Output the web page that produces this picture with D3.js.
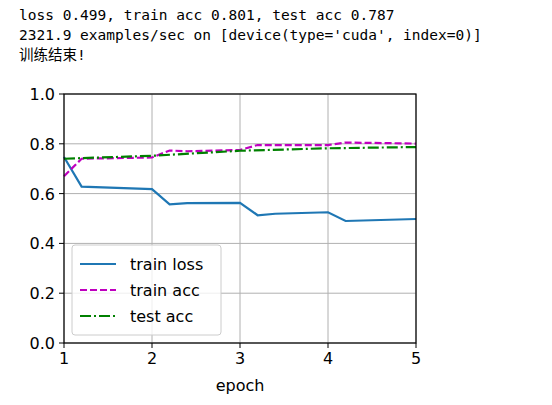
<!DOCTYPE html><html><head><meta charset="utf-8"><script src="https://d3js.org/d3.v7.min.js"></script>
<style>body{margin:0;background:#fff}pre{margin:0}</style></head><body>
<svg id="c" width="552" height="405"></svg>
<script>
const headerLines=["loss 0.499, train acc 0.801, test acc 0.787","2321.9 examples/sec on [device(type='cuda', index=0)]","训练结束!"];
const trainX=[1.0,1.2,2.0,2.2,2.4,3.0,3.2,3.4,4.0,4.2,5.0];
const trainLoss=[0.747,0.628,0.618,0.557,0.562,0.563,0.513,0.519,0.525,0.490,0.498];
const trainAcc=[0.670,0.740,0.745,0.773,0.770,0.775,0.795,0.795,0.795,0.805,0.801];
const testX=[1,2,3,4,5];
const testAcc=[0.740,0.752,0.772,0.782,0.787];
const xTicks=[1,2,3,4,5];
const yTicks=[0,0.2,0.4,0.6,0.8,1.0];
const svg=d3.select("#c");
headerLines.forEach((t,i)=>svg.append("text").attr("x",19).attr("y",20+i*20).attr("font-family","DejaVu Sans Mono, Noto Sans CJK SC").attr("font-size",14.5).text(t));
const x=d3.scaleLinear().domain([1,5]).range([64,416]);
const y=d3.scaleLinear().domain([0,1]).range([343,94]);
const g=svg.append("g");
xTicks.forEach(t=>g.append("line").attr("x1",x(t)).attr("x2",x(t)).attr("y1",94).attr("y2",343).attr("stroke","#b0b0b0").attr("stroke-width",1));
yTicks.forEach(t=>g.append("line").attr("y1",y(t)).attr("y2",y(t)).attr("x1",64).attr("x2",416).attr("stroke","#b0b0b0").attr("stroke-width",1));
const ln=(xs,ys)=>d3.line().x((d,i)=>x(xs[i])).y(d=>y(d))(ys);
g.append("path").attr("d",ln(trainX,trainLoss)).attr("fill","none").attr("stroke","#1f77b4").attr("stroke-width",2.2);
g.append("path").attr("d",ln(trainX,trainAcc)).attr("fill","none").attr("stroke","#bf00bf").attr("stroke-width",2.2).attr("stroke-dasharray","7,3");
g.append("path").attr("d",ln(testX,testAcc)).attr("fill","none").attr("stroke","#008000").attr("stroke-width",2.2).attr("stroke-dasharray","11,3,2,3");
g.append("rect").attr("x",64).attr("y",94).attr("width",352).attr("height",249).attr("fill","none").attr("stroke","#000").attr("stroke-width",1.2);
const f="DejaVu Sans";
xTicks.forEach(t=>{g.append("line").attr("x1",x(t)).attr("x2",x(t)).attr("y1",343).attr("y2",348).attr("stroke","#000");
g.append("text").attr("x",x(t)).attr("y",364).attr("text-anchor","middle").attr("font-family",f).attr("font-size",16).text(t)});
yTicks.forEach(t=>{g.append("line").attr("x1",59).attr("x2",64).attr("y1",y(t)).attr("y2",y(t)).attr("stroke","#000");
g.append("text").attr("x",55).attr("y",y(t)+6).attr("text-anchor","end").attr("font-family",f).attr("font-size",16).text(t.toFixed(1))});
g.append("text").attr("x",240).attr("y",391).attr("text-anchor","middle").attr("font-family",f).attr("font-size",16).text("epoch");
const lg=g.append("g");
lg.append("rect").attr("x",72).attr("y",245).attr("width",149).attr("height",90).attr("rx",3).attr("fill","#fff").attr("fill-opacity",0.8).attr("stroke","#ccc");
[["train loss","#1f77b4",null],["train acc","#bf00bf","7,3"],["test acc","#008000","11,3,2,3"]].forEach((d,i)=>{
const yy=264+i*26;
lg.append("line").attr("x1",80).attr("x2",116).attr("y1",yy).attr("y2",yy).attr("stroke",d[1]).attr("stroke-width",2.2).attr("stroke-dasharray",d[2]);
lg.append("text").attr("x",130).attr("y",yy+6).attr("font-family",f).attr("font-size",16).text(d[0]);});
</script></body></html>
